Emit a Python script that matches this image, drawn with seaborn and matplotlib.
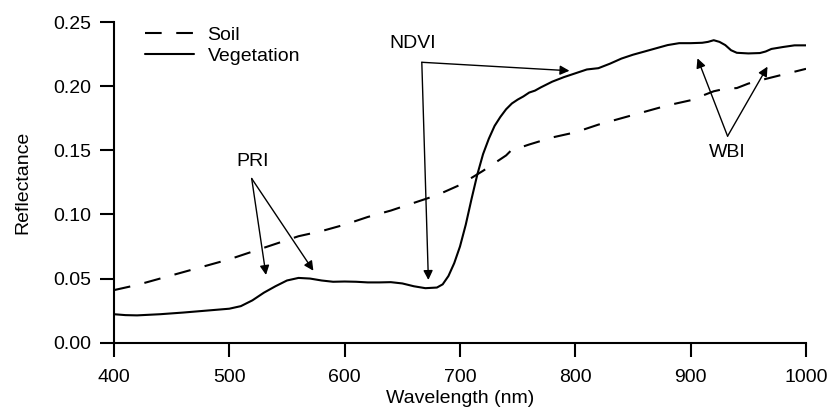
import matplotlib
matplotlib.use("Agg")
import matplotlib.pyplot as plt
import pandas as pd
import seaborn as sns

# ===== Data =====
veg_wavelength = [400, 410, 420, 440, 460, 480, 500, 510, 520, 530, 540, 550, 560, 570,
                  580, 590, 600, 610, 620, 630, 640, 650, 660, 670, 680, 685, 690, 695,
                  700, 705, 710, 715, 720, 725, 730, 735, 740, 745, 750, 755, 760, 765,
                  770, 780, 790, 800, 810, 820, 830, 840, 850, 860, 870, 880, 890, 900,
                  910, 915, 920, 925, 930, 935, 940, 950, 960, 965, 970, 980, 990, 1000]
veg_reflectance = [0.0222, 0.0215, 0.0213, 0.0222, 0.0235, 0.0250, 0.0265, 0.0285, 0.0330,
                   0.0390, 0.0440, 0.0485, 0.0505, 0.0500, 0.0485, 0.0475, 0.0477, 0.0475,
                   0.0470, 0.0470, 0.0472, 0.0462, 0.0440, 0.0425, 0.0430, 0.0455, 0.0520,
                   0.0620, 0.0750, 0.0920, 0.1120, 0.1310, 0.1470, 0.1590, 0.1690, 0.1760,
                   0.1820, 0.1865, 0.1895, 0.1920, 0.1950, 0.1965, 0.1990, 0.2035, 0.2070,
                   0.2100, 0.2130, 0.2140, 0.2175, 0.2215, 0.2245, 0.2270, 0.2295, 0.2320,
                   0.2335, 0.2335, 0.2338, 0.2345, 0.2358, 0.2345, 0.2320, 0.2280, 0.2260,
                   0.2255, 0.2258, 0.2270, 0.2290, 0.2305, 0.2318, 0.2318]

soil_wavelength = [400, 420, 440, 460, 480, 500, 520, 540, 560, 580, 600, 620, 640, 660,
                   680, 700, 720, 740, 745, 750, 760, 780, 800, 820, 840, 860, 880, 900,
                   920, 930, 940, 950, 960, 980, 1000]
soil_reflectance = [0.0410, 0.0450, 0.0500, 0.0550, 0.0600, 0.0650, 0.0710, 0.0770, 0.0830,
                    0.0870, 0.0920, 0.0980, 0.1030, 0.1090, 0.1150, 0.1230, 0.1340, 0.1460,
                    0.1505, 0.1515, 0.1545, 0.1600, 0.1640, 0.1700, 0.1750, 0.1800, 0.1850,
                    0.1890, 0.1960, 0.1980, 0.1985, 0.2020, 0.2045, 0.2090, 0.2135]

x_ticks = [400, 500, 600, 700, 800, 900, 1000]
y_ticks = [0.00, 0.05, 0.10, 0.15, 0.20, 0.25]

df = pd.concat([
    pd.DataFrame({"Wavelength": soil_wavelength, "Reflectance": soil_reflectance, "Surface": "Soil"}),
    pd.DataFrame({"Wavelength": veg_wavelength, "Reflectance": veg_reflectance, "Surface": "Vegetation"}),
], ignore_index=True)

# ===== Style =====
sns.set_style("ticks")
plt.rcParams["font.family"] = ["Liberation Sans", "DejaVu Sans"]
plt.rcParams["font.size"] = 14
plt.rcParams["text.color"] = "black"
plt.rcParams["axes.labelcolor"] = "black"

fig = plt.figure(figsize=(8.3, 4.12), dpi=100)
ax = fig.add_axes([0.1373, 0.1682, 0.8338, 0.7784])

sns.lineplot(data=df, x="Wavelength", y="Reflectance", style="Surface",
             style_order=["Soil", "Vegetation"],
             dashes={"Soil": (8, 7), "Vegetation": ""},
             color="black", linewidth=1.5, sort=False, ax=ax)

ax.set_xlim(400, 1000)
ax.set_ylim(0, 0.25)
ax.set_xticks(x_ticks)
ax.set_yticks(y_ticks)
ax.set_yticklabels([f"{v:.2f}" for v in y_ticks])
ax.tick_params(axis="both", direction="out", length=10, width=1.5, colors="black", labelsize=14)
ax.tick_params(axis="x", pad=9)
ax.tick_params(axis="y", pad=6)
for side in ["top", "right"]:
    ax.spines[side].set_visible(False)
for side in ["left", "bottom"]:
    ax.spines[side].set_linewidth(1.5)
    ax.spines[side].set_color("black")

ax.set_xlabel("Wavelength (nm)", fontsize=14, labelpad=3)
ax.set_ylabel("Reflectance", fontsize=14, labelpad=16)

leg = ax.legend(loc="upper left", bbox_to_anchor=(0.02, 1.04), frameon=False,
                handlelength=2.5, handletextpad=0.7, labelspacing=0.15, fontsize=14)

# ===== Annotations =====
arrow = dict(arrowstyle="-|>", color="black", lw=1.0, mutation_scale=14, shrinkA=0, shrinkB=0)

ax.text(520.6, 0.141, "PRI", ha="center", va="center", fontsize=14)
ax.annotate("", xy=(531.8, 0.0528), xytext=(519.4, 0.128), arrowprops=arrow)
ax.annotate("", xy=(572.9, 0.0561), xytext=(519.4, 0.128), arrowprops=arrow)

ax.text(659.3, 0.2336, "NDVI", ha="center", va="center", fontsize=14)
ax.annotate("", xy=(672.6, 0.0489), xytext=(666.9, 0.2186), arrowprops=arrow)
ax.annotate("", xy=(794.9, 0.2120), xytext=(666.9, 0.2186), arrowprops=arrow)

ax.text(931.4, 0.148, "WBI", ha="center", va="center", fontsize=14)
ax.annotate("", xy=(905.9, 0.2217), xytext=(932.0, 0.161), arrowprops=arrow)
ax.annotate("", xy=(966.6, 0.2152), xytext=(932.0, 0.161), arrowprops=arrow)

fig.savefig("out.png", dpi=100)
plt.close(fig)
